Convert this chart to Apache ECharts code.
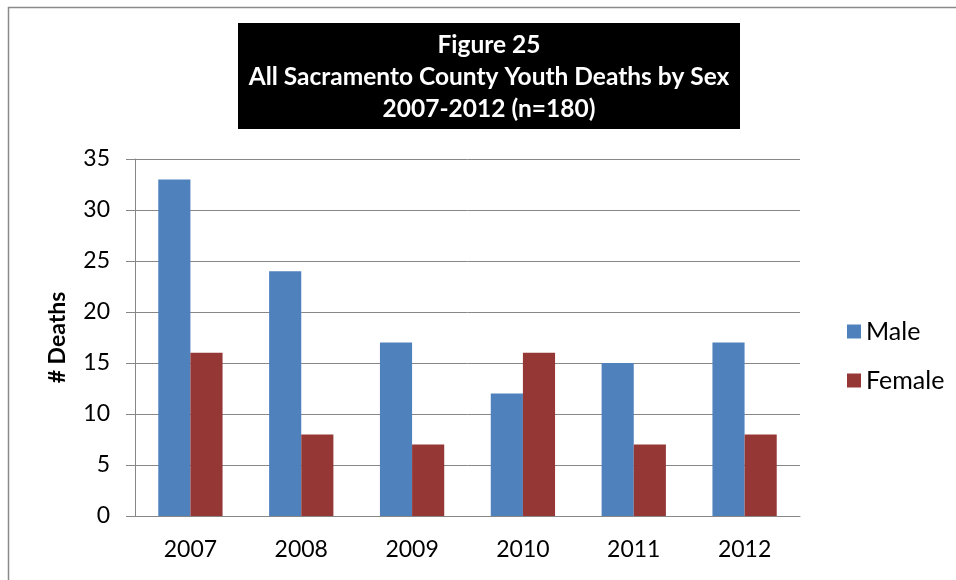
<!DOCTYPE html>
<html>
<head>
<meta charset="utf-8">
<style>
  html, body { margin: 0; padding: 0; background: #fff; }
  #chart { width: 956px; height: 580px; }
</style>
<script src="https://cdn.jsdelivr.net/npm/echarts@6/dist/echarts.min.js"></script>
</head>
<body>
<div id="chart"></div>
<script>
// Youth deaths by sex per year
const years = ['2007', '2008', '2009', '2010', '2011', '2012'];
const male = [33, 24, 17, 12, 15, 17];
const female = [16, 8, 7, 16, 7, 8];
const yTicks = { min: 0, max: 35, interval: 5 };

const FONT = 'Lato, "Open Sans", sans-serif';
const chart = echarts.init(document.getElementById('chart'), null, { renderer: 'canvas' });

chart.setOption({
  backgroundColor: '#fff',
  animation: false,
  textStyle: { fontFamily: FONT },
  graphic: [
    // outer chart frame
    { type: 'rect', shape: { x: 8.5, y: 7.5, width: 1000, height: 1000 },
      style: { fill: 'none', stroke: '#8a8a8a', lineWidth: 1.5 }, z: 0 },
    // title box
    { type: 'rect', shape: { x: 238, y: 23, width: 502, height: 106 },
      style: { fill: '#000' }, z: 1 },
    { type: 'text', x: 489, y: 77, z: 2,
      style: {
        text: 'Figure 25\nAll Sacramento County Youth Deaths by Sex\n2007-2012 (n=180)',
        fill: '#fff', font: 'bold 24.5px ' + FONT, align: 'center',
        verticalAlign: 'middle', lineHeight: 32
      } }
  ],
  legend: {
    orient: 'vertical',
    left: 842, top: 314,
    itemWidth: 14, itemHeight: 14, itemGap: 24,
    icon: 'rect',
    textStyle: { fontSize: 25, color: '#000', fontFamily: FONT },
    data: ['Male', 'Female']
  },
  grid: { left: 135, right: 156, top: 159, bottom: 64, containLabel: false },
  xAxis: {
    type: 'category',
    data: years,
    axisLine: { lineStyle: { color: '#878787', width: 1 } },
    axisTick: { show: false },
    axisLabel: { color: '#000', fontSize: 23, margin: 22, fontFamily: FONT }
  },
  yAxis: {
    type: 'value',
    min: yTicks.min, max: yTicks.max, interval: yTicks.interval,
    name: '# Deaths',
    nameLocation: 'middle',
    nameGap: 66,
    nameRotate: 90,
    nameTextStyle: { fontSize: 23, fontWeight: 'bold', color: '#000', fontFamily: FONT },
    axisLine: { show: true, lineStyle: { color: '#878787', width: 1 } },
    axisTick: { show: true, length: 9, lineStyle: { color: '#878787' } },
    axisLabel: { color: '#000', fontSize: 23, margin: 25, fontFamily: FONT },
    splitLine: { lineStyle: { color: '#878787', width: 1 } }
  },
  series: [
    { name: 'Male', type: 'bar', data: male, barGap: '0%', barCategoryGap: '42%',
      itemStyle: { color: '#4F81BD' } },
    { name: 'Female', type: 'bar', data: female, barGap: '0%', barCategoryGap: '42%',
      itemStyle: { color: '#953735' } }
  ]
});
</script>
</body>
</html>
